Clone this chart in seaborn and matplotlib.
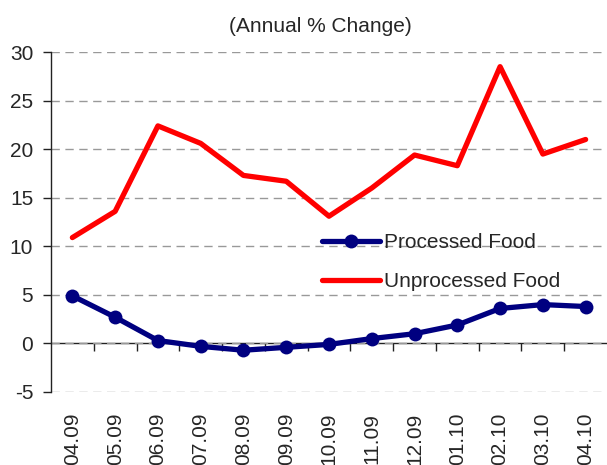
import numpy as np
import pandas as pd
import matplotlib
matplotlib.use("Agg")
import matplotlib.pyplot as plt
import seaborn as sns

months = ["04.09", "05.09", "06.09", "07.09", "08.09", "09.09", "10.09",
          "11.09", "12.09", "01.10", "02.10", "03.10", "04.10"]
processed = [4.9, 2.7, 0.3, -0.3, -0.7, -0.4, -0.1, 0.5, 1.0, 1.9, 3.6, 4.0, 3.8]
unprocessed = [10.9, 13.6, 22.4, 20.6, 17.3, 16.7, 13.1, 16.0, 19.4, 18.3, 28.5, 19.5, 21.0]
y_ticks = [-5, 0, 5, 10, 15, 20, 25, 30]

sns.set_theme(style="white")
plt.rcParams['font.family'] = ['Liberation Sans', 'DejaVu Sans']

FS = 15

fig = plt.figure(figsize=(6.07, 4.65), dpi=100)
ax = fig.add_axes([0.084, 0.157, 0.916, 0.731])

pos = np.arange(len(months))
df = pd.DataFrame({"pos": pos, "Processed Food": processed, "Unprocessed Food": unprocessed})

sns.lineplot(data=df, x="pos", y="Processed Food", ax=ax, color="#000080",
             linewidth=3.8, marker="o", markersize=10, markeredgewidth=0,
             label="Processed Food", sort=False)
sns.lineplot(data=df, x="pos", y="Unprocessed Food", ax=ax, color="#FF0000",
             linewidth=3.8, label="Unprocessed Food", sort=False)

ax.set_xlim(-0.5, len(months) - 0.5)
ax.set_ylim(-5, 30)
ax.set_yticks(y_ticks)
ax.set_yticklabels([str(v) for v in y_ticks], fontsize=FS)
ax.set_xticks(pos)
ax.set_xticklabels(months, rotation=90, fontsize=FS, va='top')
ax.tick_params(axis='x', length=0, pad=15)
ax.tick_params(axis='y', length=5.8, width=1, color='#222222', direction='out', pad=7, left=True)
ax.set_xlabel("")
ax.set_ylabel("")

for s in ['top', 'right', 'bottom']:
    ax.spines[s].set_visible(False)
ax.spines['left'].set_color('#222222')
ax.spines['left'].set_linewidth(1)

ax.yaxis.grid(True, linestyle=(0, (6, 4)), color='#999999', linewidth=1)
ax.set_axisbelow(True)

# zero axis line with category separator ticks
sec = ax.secondary_xaxis(5 / 35)
sec.set_xticks(np.arange(0.5, len(months) - 1, 1))
sec.set_xticklabels([])
sec.tick_params(axis='x', length=6, width=1, color='#222222', direction='out')
sec.spines['bottom'].set_color('#222222')
sec.spines['bottom'].set_linewidth(1)
for s in ['top', 'left', 'right']:
    sec.spines[s].set_visible(False)

leg = ax.legend(loc='center left', bbox_to_anchor=(0.487, 0.382), frameon=False,
                fontsize=FS, handlelength=2.8, handletextpad=0.2,
                labelspacing=0.95, borderpad=0, borderaxespad=0)

fig.text(320 / 607, 1 - 26 / 465, "(Annual % Change)", ha='center', va='center', fontsize=FS)

fig.savefig("out.png", dpi=100)
